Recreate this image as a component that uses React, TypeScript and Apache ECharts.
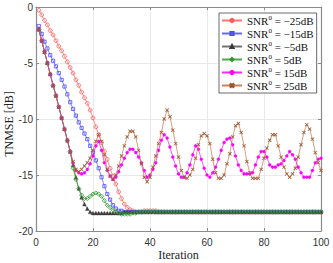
import React, { useEffect, useRef } from "react";
import * as echarts from "echarts";

const iterations: number[] = Array.from({ length: 100 }, (_, i) => i + 1);

const snrLabels = ["−25", "−15", "−5", "5", "15", "25"];

const snrM25 = [
  -0.3, -0.7, -1.2, -1.6, -2.1, -2.5, -3.0, -3.5, -3.9, -4.4,
  -4.9, -5.4, -5.9, -6.5, -7.0, -7.6, -8.1, -8.6, -9.2, -9.9,
  -10.7, -11.4, -12.1, -12.9, -13.6, -14.4, -15.1, -15.8, -16.5, -17.1,
  -17.6, -17.9, -18.1, -18.2, -18.3, -18.3, -18.3, -18.2, -18.2, -18.2,
  -18.2, -18.2, -18.3, -18.3, -18.3, -18.3, -18.3, -18.3, -18.3, -18.3,
  -18.3, -18.3, -18.3, -18.3, -18.3, -18.3, -18.3, -18.3, -18.3, -18.3,
  -18.3, -18.3, -18.3, -18.3, -18.3, -18.3, -18.3, -18.3, -18.3, -18.3,
  -18.3, -18.3, -18.3, -18.3, -18.3, -18.3, -18.3, -18.3, -18.3, -18.3,
  -18.3, -18.3, -18.3, -18.3, -18.3, -18.3, -18.3, -18.3, -18.3, -18.3,
  -18.3, -18.3, -18.3, -18.3, -18.3, -18.3, -18.3, -18.3, -18.3, -18.3,
];

const snrM15 = [
  -1.7, -2.4, -3.1, -3.7, -4.3, -4.8, -5.3, -5.9, -6.5, -7.1,
  -7.8, -8.5, -9.1, -9.7, -10.3, -10.8, -11.3, -11.8, -12.4, -13.0,
  -13.7, -14.4, -15.2, -16.0, -16.7, -17.2, -17.7, -18.0, -18.2, -18.2,
  -18.3, -18.3, -18.3, -18.3, -18.3, -18.3, -18.3, -18.3, -18.3, -18.3,
  -18.3, -18.3, -18.3, -18.3, -18.3, -18.3, -18.3, -18.3, -18.3, -18.3,
  -18.3, -18.3, -18.3, -18.3, -18.3, -18.3, -18.3, -18.3, -18.3, -18.3,
  -18.3, -18.3, -18.3, -18.3, -18.3, -18.3, -18.3, -18.3, -18.3, -18.3,
  -18.3, -18.3, -18.3, -18.3, -18.3, -18.3, -18.3, -18.3, -18.3, -18.3,
  -18.3, -18.3, -18.3, -18.3, -18.3, -18.3, -18.3, -18.3, -18.3, -18.3,
  -18.3, -18.3, -18.3, -18.3, -18.3, -18.3, -18.3, -18.3, -18.3, -18.3,
];

const snrM5 = [
  -2.0, -3.0, -4.0, -5.0, -6.0, -7.0, -7.9, -8.9, -9.9, -10.9,
  -11.9, -12.9, -14.1, -15.2, -16.2, -17.0, -17.6, -18.0, -18.3, -18.4,
  -18.4, -18.4, -18.4, -18.4, -18.4, -18.4, -18.4, -18.4, -18.4, -18.4,
  -18.3, -18.3, -18.3, -18.3, -18.3, -18.3, -18.3, -18.3, -18.3, -18.3,
  -18.3, -18.3, -18.3, -18.3, -18.3, -18.3, -18.3, -18.3, -18.3, -18.3,
  -18.3, -18.3, -18.3, -18.3, -18.3, -18.3, -18.3, -18.3, -18.3, -18.3,
  -18.3, -18.3, -18.3, -18.3, -18.3, -18.3, -18.3, -18.3, -18.3, -18.3,
  -18.3, -18.3, -18.3, -18.3, -18.3, -18.3, -18.3, -18.3, -18.3, -18.3,
  -18.3, -18.3, -18.3, -18.3, -18.3, -18.3, -18.3, -18.3, -18.3, -18.3,
  -18.3, -18.3, -18.3, -18.3, -18.3, -18.3, -18.3, -18.3, -18.3, -18.3,
];

const snrP5 = [
  -2.0, -3.0, -4.0, -5.0, -6.0, -7.0, -7.9, -8.9, -9.9, -10.9,
  -11.9, -12.9, -14.4, -15.4, -16.2, -16.8, -17.1, -17.1, -16.9, -16.7,
  -16.6, -16.7, -16.9, -17.3, -17.7, -17.9, -18.1, -18.3, -18.4, -18.5,
  -18.5, -18.5, -18.5, -18.4, -18.4, -18.3, -18.3, -18.3, -18.3, -18.3,
  -18.3, -18.3, -18.3, -18.3, -18.3, -18.3, -18.3, -18.3, -18.3, -18.3,
  -18.3, -18.3, -18.3, -18.3, -18.3, -18.3, -18.3, -18.3, -18.3, -18.3,
  -18.3, -18.3, -18.3, -18.3, -18.3, -18.3, -18.3, -18.3, -18.3, -18.3,
  -18.3, -18.3, -18.3, -18.3, -18.3, -18.3, -18.3, -18.3, -18.3, -18.3,
  -18.3, -18.3, -18.3, -18.3, -18.3, -18.3, -18.3, -18.3, -18.3, -18.3,
  -18.3, -18.3, -18.3, -18.3, -18.3, -18.3, -18.3, -18.3, -18.3, -18.3,
];

const snrP15 = [
  -2.0, -3.0, -4.0, -5.0, -6.0, -7.0, -7.9, -8.9, -9.9, -10.9,
  -11.9, -12.9, -13.9, -14.6, -14.8, -14.9, -14.8, -14.5, -14.0, -13.3,
  -12.4, -12.0, -12.8, -13.9, -14.6, -15.1, -15.4, -15.2, -14.7, -14.1,
  -13.5, -13.0, -12.7, -12.7, -13.0, -13.4, -13.9, -14.6, -15.2, -15.0,
  -14.5, -13.9, -12.8, -11.9, -11.4, -11.7, -12.5, -13.4, -14.2, -14.9,
  -15.2, -15.2, -14.8, -14.1, -13.2, -12.4, -12.7, -13.6, -14.4, -15.0,
  -15.2, -14.8, -14.3, -13.6, -12.8, -12.1, -11.8, -11.7, -12.3, -13.3,
  -14.1, -14.6, -14.9, -14.9, -14.9, -14.8, -14.1, -13.4, -12.9, -12.9,
  -13.4, -14.1, -14.3, -14.3, -14.1, -14.0, -13.7, -13.3, -12.9, -13.2,
  -13.6, -14.3, -14.8, -15.2, -15.2, -15.2, -14.6, -13.9, -13.6, -13.5,
];

const snrP25 = [
  -2.0, -3.0, -4.0, -5.0, -6.0, -7.0, -7.9, -8.9, -9.9, -10.9,
  -11.9, -12.9, -13.8, -14.5, -14.7, -14.5, -14.2, -13.9, -13.5, -12.8,
  -12.0, -11.4, -12.0, -13.2, -14.5, -15.1, -15.4, -15.0, -14.2, -13.3,
  -12.4, -11.6, -11.1, -11.1, -11.6, -12.8, -14.0, -15.2, -15.6, -15.2,
  -14.3, -13.3, -12.2, -11.2, -10.0, -9.2, -9.8, -11.0, -12.2, -13.4,
  -14.6, -15.2, -15.3, -15.0, -14.5, -13.5, -12.3, -11.5, -11.3, -11.5,
  -12.2, -13.6, -14.8, -15.3, -15.3, -15.0, -14.0, -13.1, -11.6, -10.6,
  -10.4, -11.2, -12.4, -13.8, -14.8, -15.3, -15.3, -15.3, -14.5, -13.5,
  -12.6, -11.9, -11.4, -11.4, -12.4, -13.4, -14.3, -14.9, -15.2, -14.9,
  -14.4, -13.4, -12.3, -11.2, -10.5, -10.9, -11.8, -13.0, -13.9, -14.6,
];

const xTicks = { min: 0, max: 100, interval: 20 };
const yTicks = { min: -20, max: 0, interval: 5 };

const crossPath =
  "path://M0,1.2L1.2,0L5,3.8L8.8,0L10,1.2L6.2,5L10,8.8L8.8,10L5,6.2L1.2,10L0,8.8L3.8,5Z";

const seriesDefs = [
  { values: snrM25, color: "#ff5a5a", symbol: "circle", size: 3.8, open: true },
  { values: snrM15, color: "#4d4dff", symbol: "rect", size: 3.2, open: true },
  { values: snrM5, color: "#5a5a5a", symbol: "triangle", size: 3.8, open: false, fill: "#3a3a3a" },
  { values: snrP5, color: "#2f9a2f", symbol: "diamond", size: 4.2, open: true },
  { values: snrP15, color: "#ff00ff", symbol: "circle", size: 3, open: false, fill: "#ff00ff" },
  { values: snrP25, color: "#c0703f", symbol: crossPath, size: 3.4, open: false, fill: "#9a5530" },
];

const axisGray = "#8c8c8c";
const serif = "'Liberation Serif', 'DejaVu Serif', serif";
const sans = "'Liberation Sans', Arial, sans-serif";

export default function App() {
  const ref = useRef<HTMLDivElement>(null);
  useEffect(() => {
    if (!ref.current) return;
    const chart = echarts.init(ref.current, undefined, { renderer: "svg" });
    const names = snrLabels.map((s) => `SNR⁰ = ${s}dB`);
    const series = seriesDefs.map((d, k) => ({
      name: names[k],
      type: "line",
      data: iterations.map((x, i) => [x, d.values[i]]),
      symbol: d.symbol,
      symbolSize: d.size,
      showSymbol: true,
      showAllSymbol: true,
      lineStyle: { color: d.color, width: 0.8, opacity: 0.85 },
      itemStyle: d.open
        ? { color: "rgba(255,255,255,0)", borderColor: d.color, borderWidth: 0.8 }
        : { color: d.fill, borderColor: d.fill, borderWidth: 0.3 },
      color: d.color,
      emphasis: { disabled: true },
      z: 2 + k,
    }));
    const baseAxis = {
      type: "value",
      axisLine: { show: true, onZero: false, lineStyle: { color: axisGray, width: 1.2 } },
      axisTick: { show: true, inside: true, length: 3, lineStyle: { color: axisGray, width: 1 } },
    };
    chart.setOption({
      animation: false,
      backgroundColor: "#ffffff",
      grid: { left: 36, right: 12, top: 7, bottom: 32, containLabel: false },
      xAxis: [
        {
          ...baseAxis,
          position: "bottom",
          ...xTicks,
          axisLabel: { margin: 6, fontSize: 10, color: "#333", fontFamily: sans },
          splitLine: { show: true, lineStyle: { color: "#e3e3e3", width: 0.8 } },
        },
        {
          ...baseAxis,
          position: "top",
          ...xTicks,
          axisLabel: { show: false },
          splitLine: { show: false },
        },
      ],
      yAxis: [
        {
          ...baseAxis,
          position: "left",
          ...yTicks,
          axisLabel: { margin: 3, fontSize: 10, color: "#333", fontFamily: sans },
          splitLine: { show: true, lineStyle: { color: "#e3e3e3", width: 0.8 } },
        },
        {
          ...baseAxis,
          position: "right",
          ...yTicks,
          axisLabel: { show: false },
          splitLine: { show: false },
        },
      ],
      legend: {
        left: 219,
        top: 13,
        orient: "vertical",
        itemWidth: 20,
        itemHeight: 4,
        itemGap: 0,
        padding: [1, 3, 1, 2],
        borderColor: "#444",
        borderWidth: 0.8,
        backgroundColor: "#ffffff",
        data: names,
        formatter: (name: string) => {
          const m = name.split("⁰");
          return `{n|SNR}{s|0}{n|${m[1]}}`;
        },
        textStyle: {
          fontFamily: serif,
          fontSize: 11,
          color: "#111",
          lineHeight: 13,
          rich: {
            n: { fontFamily: serif, fontSize: 11, color: "#111", lineHeight: 13 },
            s: { fontFamily: serif, fontSize: 7, color: "#111", lineHeight: 13, verticalAlign: "top", padding: [0, 0, 5, 0] },
          },
        },
      },
      graphic: [
        {
          type: "text",
          x: 178.5,
          y: 255,
          style: { text: "Iteration", font: `12px ${serif}`, fill: "#222", align: "center", verticalAlign: "middle" },
        },
        {
          type: "text",
          x: 9,
          y: 124,
          rotation: Math.PI / 2,
          style: { text: "TNMSE [dB]", font: `12px ${serif}`, fill: "#222", align: "center", verticalAlign: "middle" },
        },
      ],
      series,
    });
    return () => chart.dispose();
  }, []);
  return (
    <div
      ref={ref}
      style={{ position: "fixed", left: 0, top: 0, width: 333, height: 263, background: "#fff" }}
    />
  );
}
